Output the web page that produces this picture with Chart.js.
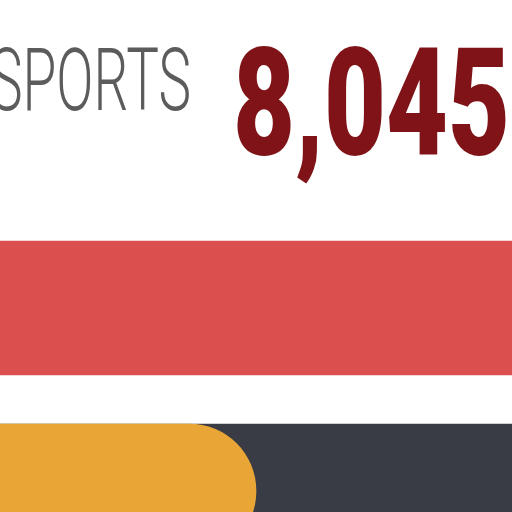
<!DOCTYPE html>
<html>
<head>
<meta charset="utf-8">
<script src="https://cdn.jsdelivr.net/npm/chart.js@4"></script>
<style>
  html, body { margin: 0; padding: 0; background: #ffffff; overflow: hidden; }
  #wrap { width: 512px; height: 512px; overflow: hidden; }
</style>
</head>
<body>
<div id="wrap"><canvas id="chart" width="512" height="600"></canvas></div>
<script>
// --- data ---
const TITLE = 'SPORTS';
const TOTAL = 8045;
const ROWS = ['Sports', 'Share'];
const FILL_VALUES = [100, 50];     // red full bar, orange progress
const TRACK_VALUES = [null, 100];  // dark track behind the progress
const FILL_COLORS = ['#dc4f4f', '#e9a637'];
const TRACK_COLOR = '#393c45';

// draws text squeezed horizontally to imitate a condensed face
function drawSqueezed(ctx, text, font, color, x, baseline, width) {
  ctx.save();
  ctx.font = font;
  const w = ctx.measureText(text).width;
  ctx.translate(x, baseline);
  ctx.scale(width / w, 1);
  ctx.fillStyle = color;
  ctx.textBaseline = 'alphabetic';
  ctx.fillText(text, 0, 0);
  ctx.restore();
}

const headlinePlugin = {
  id: 'headline',
  afterDraw(chart) {
    const ctx = chart.ctx;
    drawSqueezed(ctx, TITLE, '300 87px Roboto', '#5c5c5c', -10, 110, 201);
    drawSqueezed(ctx, TOTAL.toLocaleString('en-US'), '900 151px Roboto', '#7f1317', 233, 155, 277);
  }
};

new Chart(document.getElementById('chart'), {
  type: 'bar',
  data: {
    labels: ROWS,
    datasets: [
      {
        label: 'value',
        data: FILL_VALUES,
        backgroundColor: FILL_COLORS,
        borderRadius: ctx => ctx.dataIndex === 1 ? { topRight: 67, bottomRight: 67 } : 0,
        borderSkipped: false,
        grouped: false,
        barThickness: 134,
        order: 0
      },
      {
        label: 'track',
        data: TRACK_VALUES,
        backgroundColor: TRACK_COLOR,
        grouped: false,
        barThickness: 134,
        order: 1
      }
    ]
  },
  options: {
    indexAxis: 'y',
    responsive: false,
    animation: false,
    layout: { padding: { top: 216.5, bottom: 17.5, left: 0, right: 0 } },
    scales: {
      x: { display: false, min: 0, max: 100 },
      y: { display: false }
    },
    plugins: { legend: { display: false }, tooltip: { enabled: false } }
  },
  plugins: [headlinePlugin]
});
</script>
</body>
</html>
